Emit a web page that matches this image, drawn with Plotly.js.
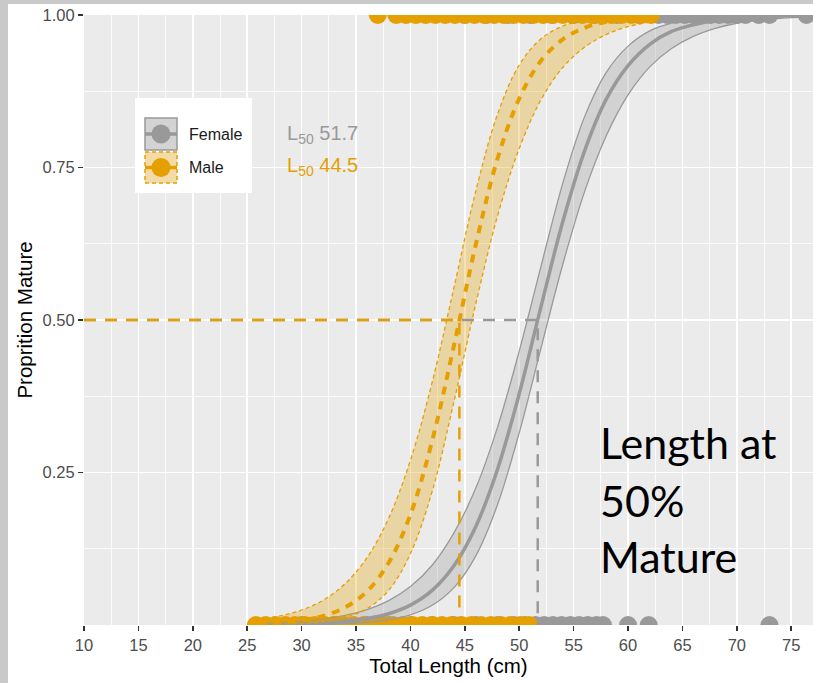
<!DOCTYPE html>
<html>
<head>
<meta charset="utf-8">
<script src="https://cdn.plot.ly/plotly-3.0.1.min.js"></script>
<style>html,body{margin:0;padding:0;background:#fff;}#chart{width:813px;height:683px;}</style>
</head>
<body>
<div id="chart"></div>
<script>
// ---- data ----
const L50_female = 51.7;
const L50_male = 44.5;

const femX   = [26,28,30,32,34,36,38,40,42,44,46,48,50,52,54,56,58,60,62,64,66,68,70,72,74,77];
const femFit = [0.0006,0.001,0.0019,0.0033,0.0059,0.0105,0.0185,0.0326,0.0567,0.097,0.161,0.255,0.379,0.522,0.661,0.777,0.862,0.917,0.952,0.973,0.984,0.991,0.995,0.997,0.9985,0.9994];
const femLo  = [0.0001,0.0003,0.0006,0.0011,0.0022,0.0043,0.0085,0.0166,0.0323,0.0613,0.113,0.197,0.315,0.454,0.591,0.710,0.802,0.869,0.915,0.945,0.965,0.978,0.9865,0.9915,0.9947,0.9974];
const femHi  = [0.0024,0.0038,0.0061,0.0099,0.0157,0.0251,0.0399,0.063,0.098,0.151,0.224,0.324,0.449,0.588,0.724,0.833,0.906,0.949,0.974,0.9865,0.9931,0.9965,0.9982,0.9991,0.9995,0.9998];

const maleX   = [26,28,30,32,34,36,38,40,42,44,46,48,50,52,54,56,58,60,62.5];
const maleFit = [0.002,0.004,0.0077,0.0149,0.0288,0.0548,0.102,0.181,0.302,0.458,0.623,0.764,0.863,0.925,0.960,0.979,0.989,0.9945,0.9976];
const maleLo  = [0.0005,0.001,0.0024,0.0054,0.012,0.0266,0.0568,0.117,0.219,0.366,0.526,0.670,0.781,0.861,0.914,0.947,0.968,0.981,0.990];
const maleHi  = [0.0088,0.0148,0.0246,0.0407,0.0677,0.110,0.175,0.270,0.398,0.553,0.711,0.837,0.918,0.961,0.982,0.992,0.9964,0.9984,0.9994];

// observed fish (0 = immature, 1 = mature)
const femImmX = [30,33,36,38,40,42,44,46,48,49.5,50.5,51.5,52.3,53.1,53.9,54.7,55.5,56.3,57.1,57.7,60,61.9,73];
const femMatX = [45,47,49,51,53,55,57,59,61,62.8,63.6,64.4,65.2,66,66.8,67.6,68.4,69.2,70,70.8,72,73,76.4];
const maleImmX = [25.8,26.7,27.6,28.5,29.4,30.3,31.2,32.1,33,33.9,34.8,35.7,36.6,37.5,38.4,39.3,40.2,41.1,42,42.9,43.8,44.7,45.6,46.5,47.4,48.3,49.2,50.1,50.9];
const maleMatX = [37,38.7,39.6,40.5,41.4,42.3,43.2,44.1,45,45.9,46.8,47.7,48.6,49.5,50.4,51.3,52.2,53.1,54,54.9,55.8,56.7,57.6,58.5,59.4,60.3,61.2,62.1];

const xTickVals = [10,15,20,25,30,35,40,45,50,55,60,65,70,75];
const yTickVals = [0.25,0.5,0.75,1];
const yTickText = ['0.25','0.50','0.75','1.00'];
const seriesNames = ['Female','Male'];
const labelTexts = ['L<sub>50</sub> 51.7','L<sub>50</sub> 44.5'];
const noteText = ['Length at','50%','Mature'];

// ---- styles ----
const GRAY = '#999999', ORANGE = '#E69F00';
const GRAYFILL = 'rgba(153,153,153,0.3)', ORFILL = 'rgba(230,159,0,0.3)';
const ones = a => a.map(() => 1), zeros = a => a.map(() => 0);
const MS = 18;

const traces = [
  {x: femImmX, y: zeros(femImmX), mode: 'markers', marker: {color: GRAY, size: MS}, cliponaxis: true, showlegend: false, name: seriesNames[0]},
  {x: femMatX, y: ones(femMatX), mode: 'markers', marker: {color: GRAY, size: MS}, cliponaxis: true, showlegend: false, name: seriesNames[0]},
  {x: maleImmX, y: zeros(maleImmX), mode: 'markers', marker: {color: ORANGE, size: MS}, cliponaxis: true, showlegend: false, name: seriesNames[1]},
  {x: maleMatX, y: ones(maleMatX), mode: 'markers', marker: {color: ORANGE, size: MS}, cliponaxis: true, showlegend: false, name: seriesNames[1]},
  // female band + fit
  {x: femX, y: femHi, mode: 'lines', line: {color: GRAY, width: 1.3, shape: 'spline'}, showlegend: false, hoverinfo: 'skip'},
  {x: femX, y: femLo, mode: 'lines', fill: 'tonexty', fillcolor: GRAYFILL, line: {color: GRAY, width: 1.3, shape: 'spline'}, showlegend: false, hoverinfo: 'skip'},
  {x: femX, y: femFit, mode: 'lines', line: {color: GRAY, width: 3.5, shape: 'spline'}, showlegend: false, name: seriesNames[0]},
  // male band + fit
  {x: maleX, y: maleHi, mode: 'lines', line: {color: ORANGE, width: 1.3, dash: '4px,3px', shape: 'spline'}, showlegend: false, hoverinfo: 'skip'},
  {x: maleX, y: maleLo, mode: 'lines', fill: 'tonexty', fillcolor: ORFILL, line: {color: ORANGE, width: 1.3, dash: '4px,3px', shape: 'spline'}, showlegend: false, hoverinfo: 'skip'},
  {x: maleX, y: maleFit, mode: 'lines', line: {color: ORANGE, width: 4, dash: '8px,7px', shape: 'spline'}, showlegend: false, name: seriesNames[1]},
  // L50 guide lines
  {x: [10, L50_female, L50_female], y: [0.5, 0.5, 0], mode: 'lines', line: {color: GRAY, width: 2.5, dash: '12px,9px'}, showlegend: false, hoverinfo: 'skip'},
  {x: [10, L50_male, L50_male], y: [0.5, 0.5, 0], mode: 'lines', line: {color: ORANGE, width: 2.5, dash: '12px,9px'}, showlegend: false, hoverinfo: 'skip'}
];

// pixel -> paper helpers (plot area: left 84, top 15, width 729, height 610)
const px = v => (v - 84) / 729;
const py = v => (625 - v) / 610;

const shapes = [
  // marbled frame approximation
  {type: 'rect', xref: 'paper', yref: 'paper', x0: px(0), x1: px(8), y0: py(683), y1: py(0), fillcolor: '#c9c9c9', line: {width: 0}, layer: 'below'},
  {type: 'rect', xref: 'paper', yref: 'paper', x0: px(0), x1: px(813), y0: py(4), y1: py(0), fillcolor: '#c9c9c9', line: {width: 0}, layer: 'below'},
  // legend box
  {type: 'rect', xref: 'paper', yref: 'paper', x0: px(135), x1: px(252), y0: py(193), y1: py(98), fillcolor: '#ffffff', line: {width: 0}},
  {type: 'rect', xref: 'paper', yref: 'paper', x0: px(145), x1: px(177), y0: py(150), y1: py(118), fillcolor: '#d3d3d3', line: {color: GRAY, width: 1.5}},
  {type: 'line', xref: 'paper', yref: 'paper', x0: px(145), x1: px(177), y0: py(134), y1: py(134), line: {color: GRAY, width: 3.5}},
  {type: 'circle', xref: 'paper', yref: 'paper', xsizemode: 'pixel', ysizemode: 'pixel', xanchor: px(161), yanchor: py(134), x0: -9.5, x1: 9.5, y0: -9.5, y1: 9.5, fillcolor: GRAY, line: {width: 0}},
  {type: 'rect', xref: 'paper', yref: 'paper', x0: px(145), x1: px(177), y0: py(183), y1: py(152), fillcolor: '#f2dba6', line: {color: ORANGE, width: 1.5, dash: '4px,3px'}},
  {type: 'line', xref: 'paper', yref: 'paper', x0: px(145), x1: px(177), y0: py(167.5), y1: py(167.5), line: {color: ORANGE, width: 3.5}},
  {type: 'circle', xref: 'paper', yref: 'paper', xsizemode: 'pixel', ysizemode: 'pixel', xanchor: px(161), yanchor: py(167.5), x0: -9.5, x1: 9.5, y0: -9.5, y1: 9.5, fillcolor: ORANGE, line: {width: 0}}
];

const annF = {family: 'Liberation Sans, Arial, sans-serif'};
const annotations = [
  {xref: 'paper', yref: 'paper', x: px(187), y: py(134), xanchor: 'left', yanchor: 'middle', text: seriesNames[0], showarrow: false, font: Object.assign({size: 16, color: '#1a1a1a'}, annF)},
  {xref: 'paper', yref: 'paper', x: px(187), y: py(167.5), xanchor: 'left', yanchor: 'middle', text: seriesNames[1], showarrow: false, font: Object.assign({size: 16, color: '#1a1a1a'}, annF)},
  {xref: 'paper', yref: 'paper', x: px(285), y: py(134), xanchor: 'left', yanchor: 'middle', text: labelTexts[0], showarrow: false, font: Object.assign({size: 20, color: GRAY}, annF)},
  {xref: 'paper', yref: 'paper', x: px(285), y: py(166), xanchor: 'left', yanchor: 'middle', text: labelTexts[1], showarrow: false, font: Object.assign({size: 20, color: ORANGE}, annF)},
  {xref: 'paper', yref: 'paper', x: px(598), y: py(443), xanchor: 'left', yanchor: 'middle', text: noteText[0], showarrow: false, font: {family: 'Lato, sans-serif', size: 43, color: '#000'}},
  {xref: 'paper', yref: 'paper', x: px(598), y: py(500), xanchor: 'left', yanchor: 'middle', text: noteText[1], showarrow: false, font: {family: 'Lato, sans-serif', size: 43, color: '#000'}},
  {xref: 'paper', yref: 'paper', x: px(598), y: py(556), xanchor: 'left', yanchor: 'middle', text: noteText[2], showarrow: false, font: {family: 'Lato, sans-serif', size: 43, color: '#000'}}
];

const layout = {
  width: 813, height: 683,
  margin: {l: 84, r: 0, t: 15, b: 58, pad: 0},
  paper_bgcolor: '#ffffff',
  plot_bgcolor: '#EBEBEB',
  showlegend: false,
  xaxis: {
    range: [10, 77], tickmode: 'array', tickvals: xTickVals,
    ticks: 'outside', ticklen: 5, tickwidth: 1.5, tickcolor: '#333333',
    tickfont: {family: 'Liberation Sans, Arial, sans-serif', size: 16.5, color: '#4D4D4D'},
    showgrid: true, gridcolor: '#ffffff', gridwidth: 1.6, zeroline: false, showline: false,
    minor: {tickvals: [12.5,17.5,22.5,27.5,32.5,37.5,42.5,47.5,52.5,57.5,62.5,67.5,72.5,77.5], showgrid: true, gridcolor: '#ffffff', gridwidth: 0.8, ticks: ''},
    title: {text: 'Total Length (cm)', standoff: 5, font: {family: 'Liberation Sans, Arial, sans-serif', size: 20.5, color: '#000'}},
    fixedrange: true
  },
  yaxis: {
    range: [0, 1], tickmode: 'array', tickvals: yTickVals, ticktext: yTickText,
    ticks: 'outside', ticklen: 5, tickwidth: 1.5, tickcolor: '#333333',
    tickfont: {family: 'Liberation Sans, Arial, sans-serif', size: 16.5, color: '#4D4D4D'},
    showgrid: true, gridcolor: '#ffffff', gridwidth: 1.6, zeroline: false, showline: false,
    minor: {tickvals: [0.125,0.375,0.625,0.875], showgrid: true, gridcolor: '#ffffff', gridwidth: 0.8, ticks: ''},
    title: {text: 'Proprition Mature', standoff: 4, font: {family: 'Liberation Sans, Arial, sans-serif', size: 20.5, color: '#000'}},
    fixedrange: true
  },
  shapes: shapes,
  annotations: annotations
};

Plotly.newPlot('chart', traces, layout, {displayModeBar: false, staticPlot: true});
</script>
</body>
</html>
